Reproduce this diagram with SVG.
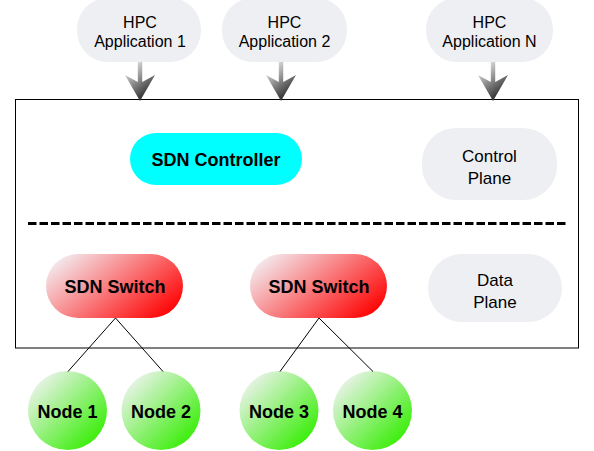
<svg xmlns="http://www.w3.org/2000/svg" width="594" height="451" viewBox="0 0 594 451">
<defs>
<linearGradient id="gRed" x1="0" y1="0.2" x2="1" y2="0.8">
<stop offset="0" stop-color="#f3ecf0"/>
<stop offset="1" stop-color="#ff0000"/>
</linearGradient>
<linearGradient id="gGreen" x1="0.1" y1="0.1" x2="0.9" y2="0.9">
<stop offset="0" stop-color="#eef3ee"/>
<stop offset="1" stop-color="#33ee00"/>
</linearGradient>
<linearGradient id="gArrow" x1="0.2" y1="0" x2="0.8" y2="1">
<stop offset="0" stop-color="#eeeeee"/>
<stop offset="1" stop-color="#111111"/>
</linearGradient>
<path id="arrow" d="M-2.2,0 L2.2,0 L2.2,20 L15,13 L0,39 L-15,13 L-2.2,20 Z"/>
</defs>
<style>
.bubble{fill:#eeeff3;stroke:none}
.t{font-family:"Liberation Sans",Arial,Helvetica,sans-serif;font-size:16px;fill:#000;text-anchor:middle}
.tp{font-family:"Liberation Sans",Arial,Helvetica,sans-serif;font-size:17px;fill:#000;text-anchor:middle}
.b{font-family:"Liberation Sans",Arial,Helvetica,sans-serif;font-size:18px;font-weight:bold;fill:#000;text-anchor:middle}
.conn{stroke:#000;stroke-width:1;fill:none}
</style>
<rect width="594" height="451" fill="#ffffff"/>
<g id="plane-box">
<rect x="15.5" y="99.5" width="563" height="248.5" fill="none" stroke="#000" stroke-width="1"/>
<line x1="28" y1="223.5" x2="567" y2="223.5" stroke="#000" stroke-width="3" stroke-dasharray="8.5 3"/>
</g>
<g id="app1">
<rect class="bubble" x="77" y="-2" width="124" height="64" rx="31"/>
<text class="t" x="140" y="28">HPC</text>
<text class="t" x="140" y="47">Application 1</text>
</g>
<g id="app2">
<rect class="bubble" x="222" y="-2" width="125" height="64" rx="31"/>
<text class="t" x="284.5" y="28">HPC</text>
<text class="t" x="284.5" y="47">Application 2</text>
</g>
<g id="appN">
<rect class="bubble" x="426" y="-2" width="127" height="64" rx="31"/>
<text class="t" x="489.5" y="28">HPC</text>
<text class="t" x="489.5" y="47">Application N</text>
</g>
<g id="controller">
<rect x="130" y="133" width="172" height="52" rx="26" fill="#00ffff"/>
<text class="b" x="216" y="166">SDN Controller</text>
</g>
<g id="control-plane">
<rect class="bubble" x="422" y="128" width="135" height="72" rx="34"/>
<text class="tp" x="489.5" y="162">Control</text>
<text class="tp" x="489.5" y="184">Plane</text>
</g>
<g id="data-plane">
<rect class="bubble" x="428" y="254" width="134" height="68" rx="34"/>
<text class="tp" x="495" y="286">Data</text>
<text class="tp" x="495" y="308">Plane</text>
</g>
<g id="switch1">
<rect x="46" y="254" width="137" height="64" rx="32" fill="url(#gRed)"/>
<text class="b" x="115" y="293">SDN Switch</text>
</g>
<g id="switch2">
<rect x="250" y="254" width="137" height="64" rx="32" fill="url(#gRed)"/>
<text class="b" x="319" y="293">SDN Switch</text>
</g>
<g id="node1">
<circle cx="67.5" cy="410.5" r="39.5" fill="url(#gGreen)"/>
<text class="b" x="67.5" y="418">Node 1</text>
</g>
<g id="node2">
<circle cx="161" cy="410.5" r="39.5" fill="url(#gGreen)"/>
<text class="b" x="161" y="418">Node 2</text>
</g>
<g id="node3">
<circle cx="279" cy="410.5" r="39.5" fill="url(#gGreen)"/>
<text class="b" x="279" y="418">Node 3</text>
</g>
<g id="node4">
<circle cx="372.5" cy="410.5" r="39.5" fill="url(#gGreen)"/>
<text class="b" x="372.5" y="418">Node 4</text>
</g>
<g id="connectors">
<use href="#arrow" x="140" y="62" fill="url(#gArrow)"/>
<use href="#arrow" x="281" y="62" fill="url(#gArrow)"/>
<use href="#arrow" x="493" y="62" fill="url(#gArrow)"/>
<line class="conn" x1="115.5" y1="318" x2="68" y2="371.5"/>
<line class="conn" x1="115.5" y1="318" x2="163" y2="371.5"/>
<line class="conn" x1="319" y1="318" x2="280" y2="371.5"/>
<line class="conn" x1="319" y1="318" x2="373" y2="371.5"/>
</g>
</svg>
